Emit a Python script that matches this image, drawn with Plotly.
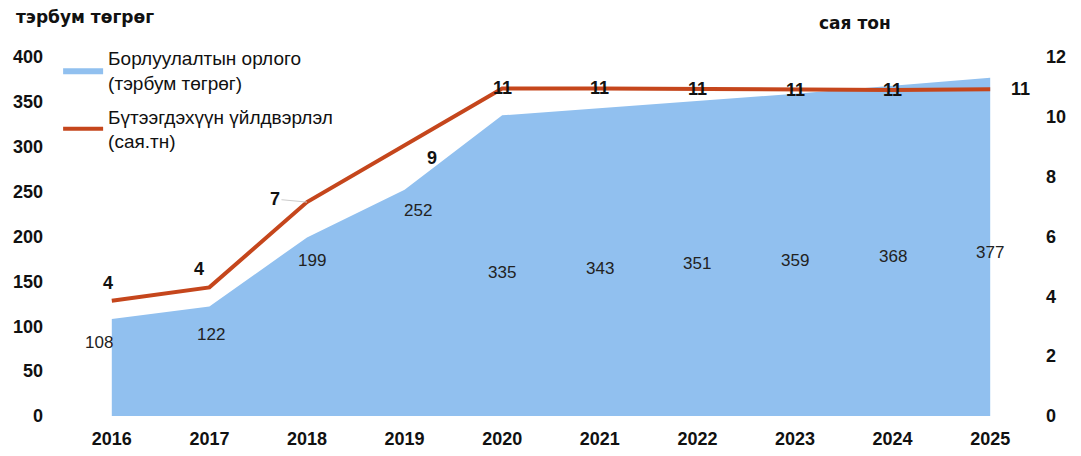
import plotly.graph_objects as go

years = ["2016", "2017", "2018", "2019", "2020", "2021", "2022", "2023", "2024", "2025"]
revenue = [108, 122, 199, 252, 335, 343, 351, 359, 368, 377]          # тэрбум төгрөг
production = [3.85, 4.3, 7.15, 9.05, 10.95, 10.95, 10.93, 10.9, 10.9, 10.92]  # сая тн

left_ticks = [0, 50, 100, 150, 200, 250, 300, 350, 400]
right_ticks = [0, 2, 4, 6, 8, 10, 12]

rev_name = "Борлуулалтын орлого<br>(тэрбум төгрөг)"
prod_name = "Бүтээгдэхүүн үйлдвэрлэл<br>(сая.тн)"

# label styling offsets (pixels)
rev_xshift = [-13, 2, 5, 13, 0, 0, 0, 0, 0, 0]
rev_yshift = [-23, -28, -23, -21, -157, -160, -163, -167, -171, -175]
prod_xshift = [-4, -10, -32, 27, 0, 0, 0, 0, 0, 30]
prod_yshift = [18, 18, 3, -13, 0, 0, 0, 0, 0, 0]

BLUE = "#91c0ef"
RED = "#c5461c"
FONT = "Liberation Sans, Arial"

fig = go.Figure()
fig.add_trace(go.Scatter(
    x=years, y=revenue, name=rev_name, mode="lines", legendgroup="rev",
    fill="tozeroy", fillcolor=BLUE, line=dict(color=BLUE, width=0),
    yaxis="y",
))
fig.add_trace(go.Scatter(
    x=years, y=production, name=prod_name, mode="lines", legendgroup="prod",
    line=dict(color=RED, width=4), yaxis="y2",
))

ann = []
for i, v in enumerate(revenue):
    ann.append(dict(x=i, y=v, xref="x", yref="y", text=str(v), showarrow=False,
                    xshift=rev_xshift[i], yshift=rev_yshift[i],
                    font=dict(family=FONT, size=17, color="#222")))
for i, v in enumerate(production):
    if i == 2:
        ann.append(dict(x=i, y=v, xref="x", yref="y2", text="<b>%d</b>" % round(v),
                        showarrow=True, arrowhead=0, arrowwidth=1, arrowcolor="#cccccc",
                        ax=prod_xshift[i], ay=-prod_yshift[i], standoff=0,
                        font=dict(family=FONT, size=18, color="#111")))
    else:
        ann.append(dict(x=i, y=v, xref="x", yref="y2", text="<b>%d</b>" % round(v),
                        showarrow=False, xshift=prod_xshift[i], yshift=prod_yshift[i],
                        font=dict(family=FONT, size=18, color="#111")))

ann.append(dict(x=0, y=1, xref="paper", yref="paper", xanchor="left", yanchor="bottom",
                xshift=-49, yshift=28, text="<b>тэрбум төгрөг</b>", showarrow=False,
                font=dict(family="DejaVu Sans", size=17, color="#111")))
ann.append(dict(x=1, y=1, xref="paper", yref="paper", xanchor="left", yanchor="bottom",
                xshift=-222, yshift=22, text="<b>сая тон</b>", showarrow=False,
                font=dict(family="DejaVu Sans", size=17, color="#111")))

fig.update_layout(
    width=1081, height=456,
    margin=dict(l=55, r=50, t=49, b=48, autoexpand=False),
    paper_bgcolor="white", plot_bgcolor="white",
    showlegend=True,
    legend=dict(x=-0.005, y=1.05, xanchor="left", yanchor="top",
                bgcolor="rgba(0,0,0,0)", tracegroupgap=6, itemwidth=40,
                font=dict(family=FONT, size=19, color="#111")),
    xaxis=dict(type="category", range=[-0.5, 9.5], showgrid=False, showline=False,
               zeroline=False, ticks="", ticklabelstandoff=10, automargin=False,
               tickfont=dict(family=FONT, size=18, color="#111"),
               tickmode="array", tickvals=years, ticktext=["<b>%s</b>" % y for y in years]),
    yaxis=dict(range=[0, 400], tickmode="array", tickvals=left_ticks,
               ticktext=["<b>%d</b>" % t for t in left_ticks],
               showgrid=False, showline=False, automargin=False,
               zeroline=False, ticks="", ticklabelstandoff=19,
               tickfont=dict(family=FONT, size=18, color="#111")),
    yaxis2=dict(range=[0, 12], tickmode="array", tickvals=right_ticks,
                ticktext=["<b>%d</b>" % t for t in right_ticks],
                overlaying="y", side="right", automargin=False,
                showgrid=False, showline=False, zeroline=False, ticks="",
                ticklabelstandoff=6,
                tickfont=dict(family=FONT, size=18, color="#111")),
    annotations=ann,
)

fig.write_html("out.html")
